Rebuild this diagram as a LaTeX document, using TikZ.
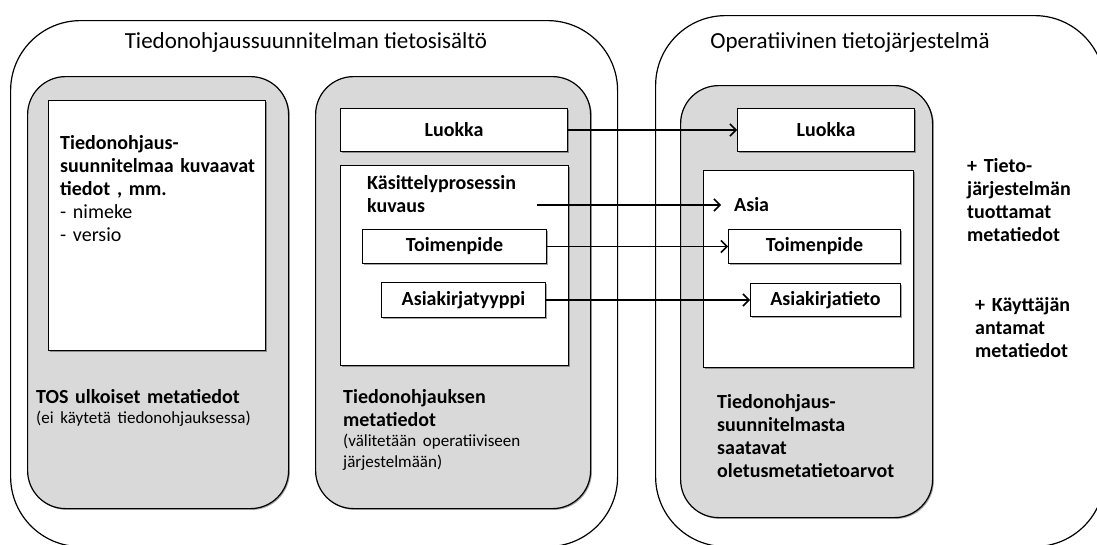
\documentclass[tikz,border=0pt]{standalone}
\usepackage{fontspec}
\setmainfont{Carlito}
\usetikzlibrary{arrows.meta,shadows}
\definecolor{metagray}{RGB}{217,217,217}
\newcommand\bodysize{\fontsize{20}{23}\selectfont}
\newcommand\notesize{\fontsize{17}{20.5}\selectfont}
\newcommand\titlesize{\fontsize{23}{28}\selectfont}

\begin{document}
\begin{tikzpicture}[
    x=1pt, y=-1pt,
    every node/.style={inner sep=0pt},
    boxshadow/.style={drop shadow={shadow xshift=1.3pt, shadow yshift=-1.3pt, opacity=.35, fill=black}},
    outerbox/.style={draw, line width=1.2pt, rounded corners=70pt, anchor=north west},
    panel/.style={draw, line width=1.2pt, fill=metagray, rounded corners=38pt, anchor=north west, boxshadow},
    sheet/.style={draw, line width=1pt, fill=white, anchor=north west, boxshadow},
    fieldbox/.style={sheet, font=\bodysize\bfseries},
    txt/.style={text width=230pt, align=left, anchor=base west, font=\bodysize},
    headtxt/.style={txt, font=\bodysize\bfseries},
    flow/.style={-{Straight Barb[length=6pt, width=12pt]}, line width=1.5pt}
]
\useasboundingbox (0,0) rectangle (1097,544);
\clip (0,0) rectangle (1097,544);

\node[outerbox, minimum width=607pt, minimum height=526pt] (tosframe) at (10,20) {};
\node[outerbox, minimum width=449pt, minimum height=531pt] (opframe) at (655,15) {};
\node[font=\titlesize, anchor=base] (tostitle) at (306,48) {Tiedonohjaussuunnitelman tietosisältö};
\node[font=\titlesize, anchor=base] (optitle) at (850,48) {Operatiivinen tietojärjestelmä};

\node[panel, minimum width=261pt, minimum height=432pt] (extpanel) at (27,76) {};
\node[panel, minimum width=275pt, minimum height=432pt] (tospanel) at (315,76) {};
\node[panel, minimum width=252pt, minimum height=432pt] (oppanel) at (680,85) {};

\node[sheet, minimum width=217pt, minimum height=250pt] (extsheet) at (48,100) {};
\node[sheet, minimum width=228pt, minimum height=200pt] (tossheet) at (340,165) {};
\node[sheet, minimum width=210pt, minimum height=197pt] (opsheet) at (703,170) {};

\node[fieldbox, minimum width=227pt, minimum height=43pt] (luokkaT) at (340,108) {Luokka};
\node[fieldbox, minimum width=184pt, minimum height=34pt] (toimT) at (362,229) {Toimenpide};
\node[fieldbox, minimum width=164pt, minimum height=35pt] (asiakirjaT) at (381,282) {Asiakirjatyyppi};
\node[fieldbox, minimum width=177pt, minimum height=43pt] (luokkaO) at (737,108) {Luokka};
\node[fieldbox, minimum width=172pt, minimum height=34pt] (toimO) at (728,229) {Toimenpide};
\node[fieldbox, minimum width=150pt, minimum height=33pt] (asiakirjaO) at (750,283) {Asiakirjatieto};

\node[txt] (exttext) at (60,149) {{\bfseries Tiedonohjaus-\\suunnitelmaa kuvaavat\\tiedot , mm.}\\- nimeke\\- versio};
\node[txt] (extnote) at (36,403) {{\bfseries TOS ulkoiset metatiedot\par}{\notesize (ei käytetä tiedonohjauksessa)\par}};
\node[txt] (tosnote) at (343,403) {{\bfseries Tiedonohjauksen\\metatiedot\par}{\notesize (välitetään operatiiviseen\\järjestelmään)\par}};
\node[headtxt] (kasittely) at (367,189) {Käsittelyprosessin\\kuvaus};
\node[font=\bodysize\bfseries, anchor=west] (asia) at (734,205) {Asia};
\node[headtxt] (optext) at (717,408) {Tiedonohjaus-\\suunnitelmasta\\saatavat\\oletusmetatietoarvot};
\node[headtxt] (systemdata) at (967,172) {+ Tieto-\\järjestelmän\\tuottamat\\metatiedot};
\node[headtxt] (userdata) at (975,311) {+ Käyttäjän\\antamat\\metatiedot};

\coordinate (kuvausend) at (537,205);
\draw[flow] (luokkaT) -- (luokkaO);
\draw[flow] (kuvausend) -- ([xshift=-13pt]asia.west);
\draw[flow] (toimT) -- (toimO);
\draw[flow] (asiakirjaT) -- (asiakirjaO);
\end{tikzpicture}
\end{document}
